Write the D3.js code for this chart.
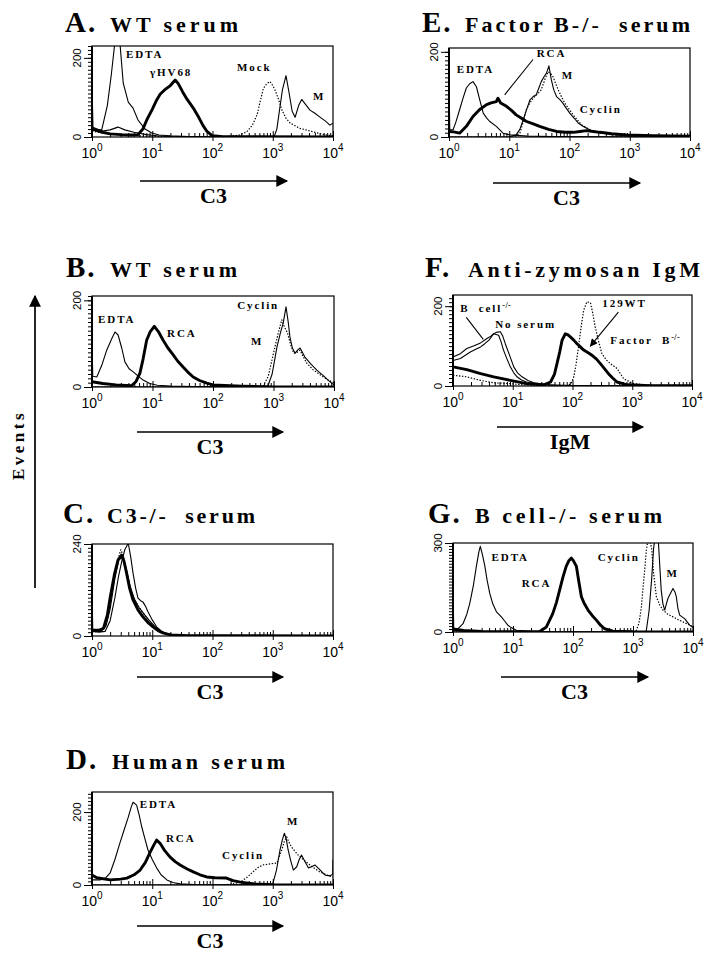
<!DOCTYPE html>
<html><head><meta charset="utf-8">
<script src="https://cdn.jsdelivr.net/npm/d3@7"></script>
<style>body{margin:0;background:#fff}svg{display:block}text{white-space:pre}</style>
</head><body><svg id="c" width="714" height="958"></svg>
<script>
// ---------- tick labels ----------
const X_TICKS = [1, 10, 100, 1000, 10000];
const X_BASE = "10";
const X_EXP = ["0", "1", "2", "3", "4"];

// ---------- Panel A: WT serum ([intensity, events]) ----------
const aEDTA = [[1,135],[1.04,18],[1.45,18],[1.8,80],[2.1,160],[2.4,240],[2.9,240],[3.3,136],[4,88],[4.8,73],[5.8,43],[7.6,20],[9.8,10],[13,5],[20,3],[40,1],[100,0],[10000,0]];
const aGHV68 = [[1,20],[1.5,12],[2,8],[3,6],[4.5,5],[5.8,6],[7,20],[8.1,43],[10,70],[11.8,93],[13.5,108],[16,119],[20,130],[24,144],[27,135],[32,114],[38,95],[48,73],[58,52],[69,30],[80,15],[100,3],[150,1],[10000,0]];
const aMock = [[1,15],[1.5,10],[2.5,8],[4,4],[8,2],[20,1],[174,1],[280,5],[370,13],[460,30],[550,56],[630,95],[700,123],[800,135],[900,140],[1000,130],[1090,119],[1250,95],[1420,68],[1650,48],[1950,35],[2830,22],[4700,13],[7000,6],[10000,3]];
const aM = [[1,25],[1.5,15],[2,18],[2.7,25],[3.5,18],[5,12],[8,6],[12,3],[20,1],[100,0],[1050,0],[1170,20],[1300,70],[1450,120],[1660,155],[1850,115],[2100,65],[2350,50],[2700,80],[3020,95],[3400,85],[4150,68],[5000,60],[6000,51],[7500,40],[8900,30],[10000,35]];

// ---------- Panel B: WT serum ----------
const bEDTA = [[1,108],[1.03,25],[1.2,23],[1.45,50],[1.75,85],[2.1,110],[2.4,127],[2.7,120],[3.1,90],[3.5,58],[4.1,42],[4.8,35],[5.8,25],[7,16],[9,8],[12,4],[20,2],[50,1],[10000,0]];
const bRCA = [[1,12],[1.5,8],[2.5,5],[4.5,3],[5.3,12],[6.2,32],[7,65],[8,108],[9.2,128],[10.7,140],[12.5,128],[15,108],[18,90],[22,74],[26,60],[32,46],[38,35],[47,23],[60,15],[79,9],[100,5],[300,2],[1000,0],[10000,0]];
const bCyclin = [[1,0],[600,0],[680,3],[820,25],[1000,78],[1200,125],[1370,155],[1500,140],[1700,125],[1900,100],[2150,78],[2450,80],[2750,85],[3100,70],[3550,55],[4500,40],[5900,28],[8000,16],[10000,10]];
const bM = [[1,0],[700,0],[810,3],[950,30],[1140,92],[1300,125],[1450,148],[1610,185],[1750,150],[1870,115],[2050,90],[2280,78],[2500,85],[2750,90],[3300,69],[4200,52],[5200,39],[6800,25],[8600,12],[10000,5]];

// ---------- Panel C: C3-/- serum ----------
const c1 = [[1,125],[1.03,12],[1.3,10],[1.65,12],[2,40],[2.4,100],[2.75,155],[3.1,193],[3.5,225],[4,242],[4.4,205],[4.8,164],[5.3,125],[5.8,99],[6.4,92],[7,89],[7.7,78],[8.5,63],[10,42],[11.8,24],[14,14],[16,8],[20,4],[30,2],[50,1],[10000,1]];
const c2 = [[1,15],[1.3,15],[1.55,20],[1.8,55],[2,100],[2.35,160],[2.7,198],[3.1,211],[3.4,195],[3.75,164],[4.2,125],[4.8,94],[5.8,68],[7,50],[8.5,35],[10.3,24],[12.5,14],[15,8],[20,3],[40,1],[10000,0]];
const c3 = [[1,12],[1.4,12],[1.7,25],[2,70],[2.4,150],[2.8,200],[3.3,205],[3.7,175],[4.3,130],[5,98],[6,75],[7.5,55],[9,40],[11,25],[14,12],[18,5],[30,1],[10000,0]];
const c4 = [[1,10],[1.5,14],[1.8,40],[2.2,120],[2.6,190],[3,225],[3.3,210],[3.8,160],[4.5,115],[5.5,85],[7,60],[9,38],[12,18],[16,7],[25,2],[10000,0]];

// ---------- Panel D: Human serum ----------
const dEDTA = [[1,14],[1.36,14],[1.7,20],[2,33],[2.4,70],[2.9,115],[3.4,150],[4,186],[4.5,215],[4.8,227],[5.5,219],[6.1,190],[6.7,159],[7.6,125],[8.5,96],[10,70],[11.8,47],[14,28],[17.5,14],[22,7],[29,3],[50,1],[10000,0]];
const dRCA = [[1,27],[1.2,20],[2,14],[3,16],[3.8,19],[5,28],[6.3,41],[7.7,62],[9.1,88],[10.5,108],[11.8,123],[13.4,115],[16,95],[19.6,77],[24,64],[29,55],[38,44],[48,36],[62,28],[80,22],[110,20],[170,19],[220,12],[290,8],[500,3],[1000,1],[10000,0]];
const dCyclin = [[1,0],[150,0],[220,3],[290,8],[380,22],[470,36],[570,48],[690,55],[900,58],[1170,60],[1300,80],[1410,96],[1560,120],[1700,132],[1850,118],[2050,104],[2350,92],[2650,82],[3100,72],[3600,63],[4500,50],[6000,36],[8000,27],[10000,22]];
const dM = [[1,0],[900,0],[1000,3],[1150,40],[1320,96],[1450,125],[1560,142],[1680,125],[1800,96],[2000,65],[2200,41],[2500,50],[2750,70],[3000,82],[3400,65],[3900,47],[4400,50],[5000,55],[5800,45],[7400,27],[9000,25],[9900,30],[10000,70]];

// ---------- Panel E: Factor B-/- serum ----------
const eEDTA = [[1,134],[1.03,17],[1.17,17],[1.3,35],[1.5,64],[1.7,90],[1.94,115],[2.2,125],[2.5,130],[2.85,118],[3.2,90],[3.7,56],[4.2,45],[4.7,37],[6.1,25],[7.9,9],[10.2,5],[20,2],[50,1],[10000,0]];
const eRCA = [[1,13],[1.2,12],[1.5,9],[1.94,25],[2.5,48],[3.2,64],[4.2,76],[5,80],[6.1,83],[6.5,91],[7.2,80],[9,72],[11,62],[13,52],[16,44],[19,37],[25,31],[32,25],[45,18],[61,13],[85,11],[115,11],[150,13],[190,15],[250,13],[320,11],[500,8],[890,5],[2460,3],[10000,2]];
const eM = [[1,0],[10,0],[13,5],[15,18],[17,40],[19.5,65],[22,87],[25,95],[28,99],[31,115],[34,130],[38,142],[41.5,150],[45.5,167],[50,134],[55,110],[61,95],[70,87],[78,79],[90,66],[101,56],[120,44],[139,33],[165,26],[190,21],[245,13],[500,6],[1000,3],[10000,1]];
const eCyclin = [[1,0],[12,0],[15,9],[17,35],[19,64],[22,80],[25,91],[29,100],[34,111],[39,135],[44,153],[48,150],[53,142],[58,128],[65,111],[75,92],[84,79],[100,64],[115,52],[135,40],[158,29],[200,20],[245,13],[500,5],[1000,3],[10000,1]];

// ---------- Panel F: Anti-zymosan IgM ----------
const fBcell = [[1,131],[1.02,73],[1.33,81],[1.7,94],[2.2,100],[2.9,108],[3.7,119],[4.3,125],[4.8,131],[5.8,127],[6.4,110],[7,90],[8,68],[9.1,48],[10.4,33],[11.8,23],[14,15],[17,10],[22,6],[29,4],[50,2],[100,1],[10000,0]];
const fNoSerum = [[1,64],[1.33,69],[1.95,85],[2.4,92],[2.9,98],[3.4,106],[4,115],[4.8,131],[5.5,135],[6.2,136],[6.8,125],[7.5,106],[8.8,78],[10.4,48],[12,33],[14.3,23],[18,14],[22.4,8],[40,3],[100,1],[10000,0]];
const fFactorB = [[1,48],[1.7,41],[2.9,31],[4.8,23],[9.1,14],[17,6],[33,3],[43,10],[50,30],[55,56],[61,85],[67,115],[76,131],[84,128],[92,123],[105,115],[119,106],[135,98],[154,90],[180,84],[212,77],[250,68],[293,56],[340,44],[400,31],[470,20],[555,10],[820,3],[2000,1],[10000,1]];
const f129WT = [[1,27],[1.7,23],[2.9,14],[4.8,8],[9.1,6],[17,2],[40,1],[81,0],[95,6],[105,23],[115,55],[126,98],[140,150],[154,190],[174,211],[200,208],[220,180],[240,148],[275,110],[310,81],[370,65],[430,56],[555,44],[720,18],[1050,6],[2000,2],[10000,1]];

// ---------- Panel G: B cell-/- serum ----------
const gEDTA = [[1,153],[1.03,6],[1.15,6],[1.47,28],[1.7,60],[1.9,96],[2.2,160],[2.45,221],[2.7,270],[2.85,289],[3.1,260],[3.4,221],[3.7,175],[4.1,130],[4.6,95],[5.3,68],[6.4,51],[7.2,38],[8.2,23],[9.5,14],[11.4,6],[20,2],[50,1],[10000,0]];
const gRCA = [[1,10],[1.5,5],[3,2],[10,1],[28,2],[36,17],[46,62],[53,100],[60,142],[68,185],[77,221],[85,240],[94,249],[102,240],[114,221],[125,170],[138,119],[155,95],[178,74],[210,55],[245,40],[290,22],[336,11],[464,3],[1000,1],[10000,0]];
const gCyclin = [[1,0],[1000,0],[1140,6],[1260,30],[1380,85],[1520,180],[1670,277],[1780,310],[1900,310],[2050,280],[2200,200],[2450,119],[2800,90],[3160,74],[3800,60],[4640,51],[5600,42],[6800,34],[8400,25],[10000,17]];
const gM = [[1,0],[1600,0],[1670,6],[1850,70],[2040,175],[2200,280],[2300,310],[2640,310],[2800,220],[2950,142],[3150,95],[3380,74],[3600,95],[3820,113],[4200,130],[4640,147],[5000,135],[5270,119],[5600,80],[6000,57],[7250,45],[8800,23],[10000,15]];

// ---------- drawing ----------
const SERIF = "'Liberation Serif','Times New Roman',serif";
const SANS = "'Liberation Sans',Arial,sans-serif";
const svg = d3.select("#c");
const defs = svg.append("defs");
defs.append("marker").attr("id","ah").attr("viewBox","0 0 10 10").attr("refX",9).attr("refY",5)
  .attr("markerWidth",8.5).attr("markerHeight",7).attr("orient","auto")
  .append("path").attr("d","M0,0L10,5L0,10z").attr("fill","#000");

const THIN = {w:1.1}, THICK = {w:2.9}, DOT = {w:1.2, dash:"1.4,1.6"};

function drawPanel(p) {
  const x = d3.scaleLog().domain([1, 1e4]).range([p.x0, p.x1]);
  const y = d3.scaleLinear().domain([0, p.ymax]).range([p.y1, p.y0]);
  const g = svg.append("g");
  const cid = "clip" + p.key;
  defs.append("clipPath").attr("id", cid).append("rect")
    .attr("x", p.x0).attr("y", p.y0).attr("width", p.x1 - p.x0).attr("height", p.y1 - p.y0);

  const line = d3.line().x(d => x(d[0])).y(d => y(d[1]));
  p.series.forEach(s => {
    g.append("path").datum(s.data).attr("d", line).attr("clip-path", `url(#${cid})`)
      .attr("fill", "none").attr("stroke", "#000").attr("stroke-width", s.st.w)
      .attr("stroke-dasharray", s.st.dash || null).attr("stroke-linejoin", "round");
  });

  g.append("rect").attr("x", p.x0).attr("y", p.y0).attr("width", p.x1 - p.x0).attr("height", p.y1 - p.y0)
    .attr("fill", "none").attr("stroke", "#000").attr("stroke-width", 1.2);
  g.append("line").attr("x1", p.x0).attr("x2", p.x0).attr("y1", p.y0).attr("y2", p.y1)
    .attr("stroke", "#000").attr("stroke-width", 2);

  // x axis ticks
  const minor = [];
  for (let e = 0; e < 4; e++) for (let m = 2; m <= 9; m++) minor.push(m * Math.pow(10, e));
  g.append("g").attr("transform", `translate(0,${p.y1})`)
    .call(d3.axisBottom(x).tickValues(minor).tickSize(-4).tickFormat(""))
    .call(a => a.select(".domain").remove());
  g.append("g").attr("transform", `translate(0,${p.y1})`)
    .call(d3.axisBottom(x).tickValues(X_TICKS).tickSize(4).tickFormat(""))
    .call(a => a.select(".domain").remove());
  g.append("g").attr("transform", `translate(0,${p.y1})`)
    .call(d3.axisBottom(x).tickValues(X_TICKS).tickSize(-6).tickFormat(""))
    .call(a => a.select(".domain").remove());
  X_TICKS.forEach((v, i) => {
    const t = g.append("text").attr("x", x(v)).attr("y", p.y1 + 21).attr("text-anchor", "middle")
      .attr("font-family", SANS).attr("font-size", 14);
    t.append("tspan").text(X_BASE);
    t.append("tspan").attr("dy", -7).attr("font-size", 10).text(X_EXP[i]);
  });

  // y axis ticks
  g.append("g").attr("transform", `translate(${p.x0},0)`)
    .call(d3.axisLeft(y).tickValues(d3.range(0, p.ymax + 0.01, 10)).tickSize(4).tickFormat(""))
    .call(a => a.select(".domain").remove());
  g.append("g").attr("transform", `translate(${p.x0},0)`)
    .call(d3.axisLeft(y).tickValues(p.yTicks).tickSize(8).tickFormat(""))
    .call(a => a.select(".domain").remove());
  p.yTicks.forEach(v => {
    g.append("text").attr("transform", `translate(${p.x0 - 11},${y(v)}) rotate(-90)`)
      .attr("text-anchor", "middle").attr("font-family", SANS).attr("font-size", 11.5).text(v);
  });

  // annotations
  (p.labels || []).forEach(l => {
    const t = g.append("text").attr("x", x(l[1])).attr("y", y(l[2]))
      .attr("font-family", SERIF).attr("font-weight", "bold").attr("font-size", 11)
      .attr("letter-spacing", 1.9);
    t.append("tspan").text(l[0]);
    if (l[3]) t.append("tspan").attr("dy", -4).attr("font-size", 8).attr("letter-spacing", 0.5).text(l[3]);
  });
  (p.pointers || []).forEach(pt => {
    g.append("line").attr("x1", x(pt.from[0])).attr("y1", y(pt.from[1]))
      .attr("x2", x(pt.to[0])).attr("y2", y(pt.to[1])).attr("stroke", "#000").attr("stroke-width", 1.1)
      .attr("marker-end", pt.head ? "url(#ah)" : null);
  });

  // title
  g.append("text").attr("x", p.title.x).attr("y", p.title.y).attr("font-family", SERIF)
    .attr("font-weight", "bold").attr("font-size", 29).attr("letter-spacing", 2).text(p.title.letter);
  g.append("text").attr("x", p.title.rx).attr("y", p.title.y).attr("font-family", SERIF)
    .attr("font-weight", "bold").attr("font-size", 22)
    .attr("textLength", p.title.re - p.title.rx).attr("lengthAdjust", "spacing").text(p.title.rest);

  // axis arrow + label
  g.append("line").attr("x1", p.arrow[0]).attr("x2", p.arrow[1]).attr("y1", p.arrow[2]).attr("y2", p.arrow[2])
    .attr("stroke", "#000").attr("stroke-width", 1.7).attr("marker-end", "url(#ah)");
  g.append("text").attr("x", (p.arrow[0] + p.arrow[1]) / 2).attr("y", p.arrow[2] + 22)
    .attr("text-anchor", "middle").attr("font-family", SERIF).attr("font-weight", "bold")
    .attr("font-size", 22).text(p.axisLabel);
}

const panels = [
  {key:"A", x0:92, x1:333, y0:46, y1:137, ymax:230, yTicks:[0,200],
   series:[{data:aEDTA,st:THIN},{data:aM,st:THIN},{data:aMock,st:DOT},{data:aGHV68,st:THICK}],
   labels:[["EDTA",3.66,200],["γHV68",9.2,154],["Mock",255,167],["M",4660,94]],
   title:{letter:"A.", rest:"WT serum", x:65, rx:110, re:238, y:32}, arrow:[140,287,181], axisLabel:"C3"},
  {key:"B", x0:92, x1:334, y0:296, y1:387, ymax:210, yTicks:[0,200],
   series:[{data:bEDTA,st:THIN},{data:bCyclin,st:DOT},{data:bM,st:THIN},{data:bRCA,st:THICK}],
   labels:[["EDTA",1.26,148],["RCA",17.4,115],["Cyclin",251,180],["M",424,97]],
   title:{letter:"B.", rest:"WT serum", x:66, rx:110, re:237, y:277}, arrow:[137,283,432], axisLabel:"C3"},
  {key:"C", x0:92, x1:333, y0:544, y1:636, ymax:240, yTicks:[0,240],
   series:[{data:c1,st:THIN},{data:c3,st:THIN},{data:c4,st:DOT},{data:c2,st:THICK}],
   labels:[],
   title:{letter:"C.", rest:"C3-/-  serum", x:63, rx:107, re:255, y:523}, arrow:[137,283,677], axisLabel:"C3"},
  {key:"D", x0:92, x1:333, y0:792, y1:885, ymax:255, yTicks:[0,200],
   series:[{data:dEDTA,st:THIN},{data:dCyclin,st:DOT},{data:dM,st:THIN},{data:dRCA,st:THICK}],
   labels:[["EDTA",6.2,211],["RCA",16.9,118],["Cyclin",144,71],["M",1730,164]],
   title:{letter:"D.", rest:"Human serum", x:66, rx:112, re:285, y:769}, arrow:[137,283,926], axisLabel:"C3"},
  {key:"E", x0:449, x1:690, y0:48, y1:137, ymax:209, yTicks:[0,200],
   series:[{data:eEDTA,st:THIN},{data:eCyclin,st:DOT},{data:eM,st:THIN},{data:eRCA,st:THICK}],
   labels:[["EDTA",1.34,150],["RCA",28.6,188],["M",74.5,136],["Cyclin",148,57]],
   pointers:[{from:[24.8,182], to:[8.4,99]}],
   title:{letter:"E.", rest:"Factor B-/-  serum", x:422, rx:465, re:690, y:32}, arrow:[493,640,183], axisLabel:"C3"},
  {key:"F", x0:453, x1:692, y0:295, y1:386, ymax:228, yTicks:[0,200],
   series:[{data:fBcell,st:THIN},{data:fNoSerum,st:THIN},{data:f129WT,st:DOT},{data:fFactorB,st:THICK}],
   labels:[["B  cell",1.32,185,"-/-"],["No serum",5.1,145],["129WT",316,198],["Factor  B",429,105,"-/-"]],
   pointers:[{from:[1.67,172], to:[3.21,117]},{from:[586,185], to:[199,100], head:true}],
   title:{letter:"F.", rest:"Anti-zymosan IgM", x:425, rx:468, re:700, y:277}, arrow:[497,643,427], axisLabel:"IgM"},
  {key:"G", x0:453, x1:693, y0:543, y1:632, ymax:300, yTicks:[0,300],
   series:[{data:gEDTA,st:THIN},{data:gCyclin,st:DOT},{data:gM,st:THIN},{data:gRCA,st:THICK}],
   labels:[["EDTA",4.4,240],["RCA",14,152],["Cyclin",258,240],["M",3620,186]],
   title:{letter:"G.", rest:"B cell-/- serum", x:428, rx:475, re:662, y:523}, arrow:[501,648,677], axisLabel:"C3"}
];
panels.forEach(drawPanel);

// Events axis
svg.append("line").attr("x1", 35).attr("x2", 35).attr("y1", 588).attr("y2", 296)
  .attr("stroke", "#000").attr("stroke-width", 1.7).attr("marker-end", "url(#ah)");
svg.append("text").attr("transform", "translate(24,445) rotate(-90)").attr("text-anchor", "middle")
  .attr("font-family", SERIF).attr("font-weight", "bold").attr("font-size", 17)
  .attr("letter-spacing", 3.5).text("Events");
</script></body></html>
